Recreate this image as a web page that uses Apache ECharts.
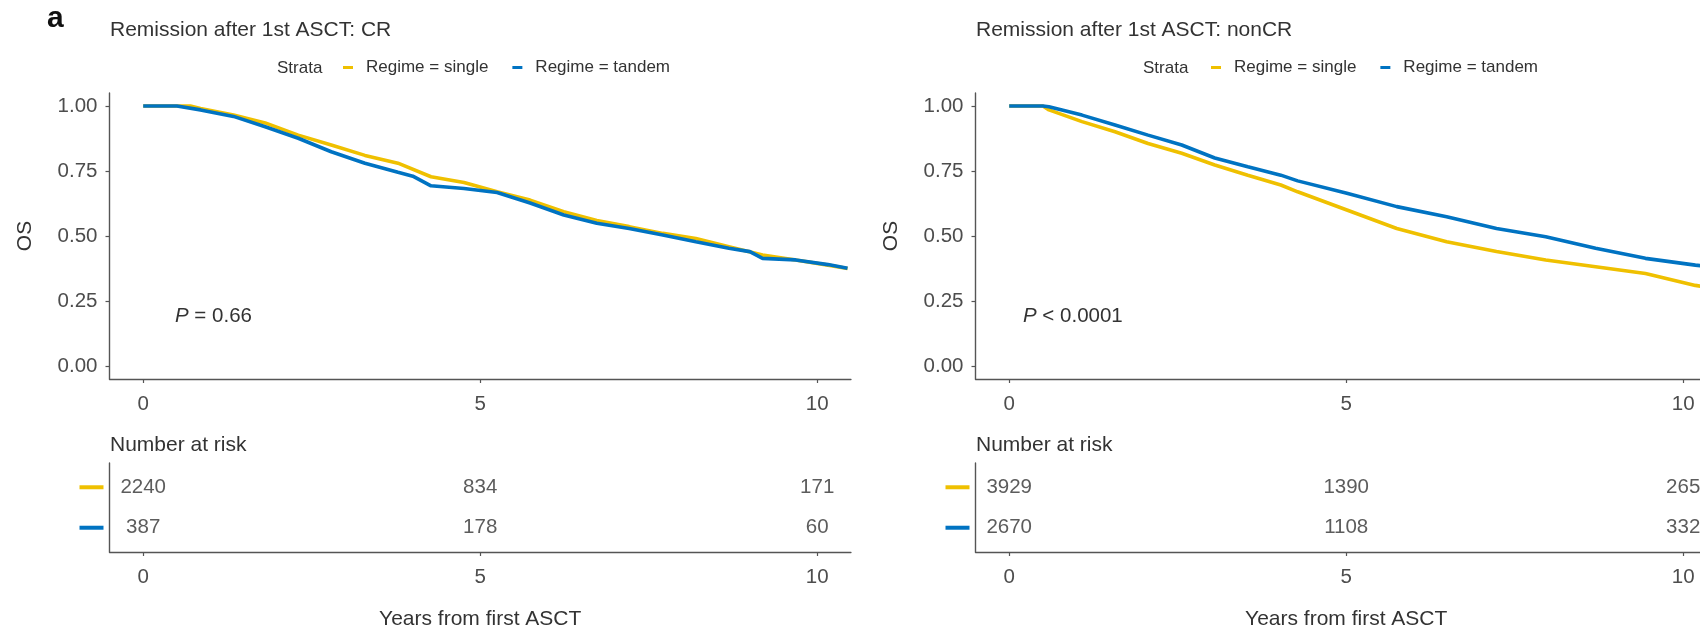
<!DOCTYPE html>
<html><head><meta charset="utf-8">
<script src="https://cdn.jsdelivr.net/npm/echarts@6/dist/echarts.min.js"></script>
<style>html,body{margin:0;padding:0;background:#fff}#c{width:1700px;height:630px}</style>
</head><body><div id="c"></div>
<script>
// ---------- data ----------
const panelTitles = ['Remission after 1st ASCT: CR', 'Remission after 1st ASCT: nonCR'];
const seriesNames = ['Regime = single', 'Regime = tandem'];
const pTexts = [' = 0.66', ' < 0.0001'];
const xTicks = [0, 5, 10];
const yTicks = [0, 0.25, 0.5, 0.75, 1];
const riskTimes = [0, 5, 10];

const crSingleT = [0, 0.7, 0.85, 1.34, 1.81, 2.30, 2.79, 3.29, 3.78, 4.27, 4.76, 5.25, 5.74, 6.24, 6.73, 7.21, 7.71, 8.20, 8.69, 9.19, 9.68, 10.16, 10.45];
const crSingleS = [1, 1, 0.99, 0.965, 0.935, 0.888, 0.85, 0.81, 0.78, 0.728, 0.706, 0.67, 0.638, 0.593, 0.56, 0.536, 0.51, 0.49, 0.459, 0.427, 0.408, 0.388, 0.375];
const crTandemT = [0, 0.5, 0.85, 1.34, 1.81, 2.30, 2.79, 3.29, 3.78, 4.00, 4.27, 4.76, 5.25, 5.74, 6.24, 6.73, 7.21, 7.71, 8.20, 8.69, 9.00, 9.19, 9.68, 10.16, 10.45];
const crTandemS = [1, 1, 0.985, 0.96, 0.92, 0.876, 0.824, 0.78, 0.745, 0.73, 0.693, 0.683, 0.667, 0.627, 0.581, 0.549, 0.529, 0.504, 0.478, 0.453, 0.44, 0.414, 0.408, 0.39, 0.376];

const nonSingleT = [0, 0.5, 0.59, 1.08, 1.57, 2.06, 2.56, 3.05, 3.54, 4.03, 4.28, 5.01, 5.75, 6.49, 7.23, 7.96, 8.70, 9.44, 10.18, 10.45];
const nonSingleS = [1, 1, 0.985, 0.94, 0.901, 0.856, 0.818, 0.773, 0.734, 0.696, 0.67, 0.60, 0.529, 0.478, 0.44, 0.408, 0.382, 0.356, 0.31, 0.30];
const nonTandemT = [0, 0.5, 0.59, 1.08, 1.57, 2.06, 2.56, 3.05, 3.54, 4.03, 4.28, 5.01, 5.75, 6.49, 7.23, 7.96, 8.70, 9.44, 10.18, 10.45];
const nonTandemS = [1, 1, 0.997, 0.965, 0.927, 0.888, 0.85, 0.80, 0.766, 0.734, 0.712, 0.664, 0.613, 0.574, 0.529, 0.497, 0.453, 0.414, 0.388, 0.38];

const crRiskSingle = [2240, 834, 171];
const crRiskTandem = [387, 178, 60];
const nonRiskSingle = [3929, 1390, 265];
const nonRiskTandem = [2670, 1108, 332];

// ---------- style ----------
const FONT = '"Liberation Sans", Arial, Helvetica, sans-serif';
const YEL = '#EFC000', BLU = '#0073C2';
const AXC = '#555555', LBC = '#4d4d4d', TXC = '#333333';
const panelLeft = [109.5, 975.5];
const PW = 741.4;

const zip = (t, s) => t.map((v, i) => [v, s[i]]);
const riskData = (vals, row) => riskTimes.map((t, i) => [t, row, vals[i]]);

const chart = echarts.init(document.getElementById('c'), null, {renderer: 'canvas'});

const grids = [], xAxes = [], yAxes = [], series = [], legends = [], graphics = [];

function xAxisCfg(gi, withName) {
  const a = {
    type: 'value', gridIndex: gi, min: -0.5, max: 10.5,
    axisLine: {show: true, onZero: false, lineStyle: {color: AXC, width: 1.4}},
    axisTick: {show: true, customValues: xTicks, length: 4, lineStyle: {color: AXC, width: 1.2}},
    axisLabel: {customValues: xTicks, margin: 15, fontSize: 20.5, color: LBC, fontFamily: FONT},
    splitLine: {show: false}
  };
  if (withName) {
    a.name = 'Years from first ASCT';
    a.nameLocation = 'middle';
    a.nameGap = 57;
    a.nameTextStyle = {fontSize: 21, color: TXC, fontFamily: FONT};
  }
  return a;
}

const panels = [
  {single: zip(crSingleT, crSingleS), tandem: zip(crTandemT, crTandemS), rs: crRiskSingle, rt: crRiskTandem},
  {single: zip(nonSingleT, nonSingleS), tandem: zip(nonTandemT, nonTandemS), rs: nonRiskSingle, rt: nonRiskTandem}
];

panels.forEach((p, k) => {
  const L = panelLeft[k];
  const gMain = grids.length;
  grids.push({left: L, top: 93, width: PW, height: 286, outerBoundsMode: 'none', containLabel: false});
  const gRisk = grids.length;
  grids.push({left: L, top: 463, width: PW, height: 89, outerBoundsMode: 'none', containLabel: false});

  xAxes.push(xAxisCfg(gMain, false));
  xAxes.push(xAxisCfg(gRisk, true));

  yAxes.push({
    type: 'value', gridIndex: gMain, min: -0.05, max: 1.05,
    axisLine: {show: true, onZero: false, lineStyle: {color: AXC, width: 1.4}},
    axisTick: {show: true, customValues: yTicks, length: 4, lineStyle: {color: AXC, width: 1.2}},
    axisLabel: {customValues: yTicks, margin: 12, fontSize: 20.5, color: LBC, fontFamily: FONT,
      formatter: v => v.toFixed(2)},
    splitLine: {show: false},
    name: 'OS', nameLocation: 'middle', nameGap: 74, nameRotate: 90,
    nameTextStyle: {fontSize: 21, color: TXC, fontFamily: FONT}
  });
  yAxes.push({
    type: 'value', gridIndex: gRisk, min: 0.4, max: 2.6,
    axisLine: {show: true, onZero: false, lineStyle: {color: AXC, width: 1.4}},
    axisTick: {show: false},
    axisLabel: {customValues: [1, 2], margin: 6,
      formatter: v => (v === 2 ? '{s|}' : '{t|}'),
      rich: {s: {width: 24, height: 4, backgroundColor: YEL}, t: {width: 24, height: 4, backgroundColor: BLU}}},
    splitLine: {show: false}
  });

  const xi = xAxes.length - 2, yi = yAxes.length - 2;
  series.push({name: seriesNames[0], type: 'line', xAxisIndex: xi, yAxisIndex: yi, data: p.single,
    showSymbol: false, symbol: 'none', color: YEL, lineStyle: {width: 3.6, color: YEL}, z: 2, silent: true});
  series.push({name: seriesNames[1], type: 'line', xAxisIndex: xi, yAxisIndex: yi, data: p.tandem,
    showSymbol: false, symbol: 'none', color: BLU, lineStyle: {width: 3.6, color: BLU}, z: 3, silent: true});

  const riskLabel = {show: true, position: 'inside', formatter: q => q.value[2], fontSize: 20.5, color: TXC, fontFamily: FONT};
  series.push({name: 'risk single ' + k, type: 'scatter', xAxisIndex: xi + 1, yAxisIndex: yi + 1,
    data: riskData(p.rs, 2), symbolSize: 1, itemStyle: {color: 'rgba(0,0,0,0)'}, label: riskLabel, silent: true});
  series.push({name: 'risk tandem ' + k, type: 'scatter', xAxisIndex: xi + 1, yAxisIndex: yi + 1,
    data: riskData(p.rt, 1), symbolSize: 1, itemStyle: {color: 'rgba(0,0,0,0)'}, label: riskLabel, silent: true});

  legends.push({
    data: seriesNames, left: [343, 1211][k], top: 59, padding: 0, orient: 'horizontal',
    icon: 'rect', itemWidth: 10, itemHeight: 3, itemGap: 24,
    textStyle: {fontSize: 17, color: TXC, fontFamily: FONT, padding: [0, 0, 0, 8]},
    selectedMode: false
  });

  graphics.push({type: 'text', x: L + 0.5, y: 30, style: {text: panelTitles[k], fontSize: 21, fill: TXC, fontFamily: FONT, verticalAlign: 'middle'}});
  graphics.push({type: 'text', x: [277, 1143][k], y: 68, style: {text: 'Strata', fontSize: 17, fill: TXC, fontFamily: FONT, verticalAlign: 'middle'}});
  graphics.push({type: 'text', x: [175, 1023][k], y: 316, style: {
    text: '{i|P}' + pTexts[k], fontSize: 20.5, fill: TXC, fontFamily: FONT, verticalAlign: 'middle',
    rich: {i: {fontStyle: 'italic', fontSize: 20.5, fill: TXC, fontFamily: FONT}}}});
  graphics.push({type: 'text', x: L + 0.5, y: 445, style: {text: 'Number at risk', fontSize: 21, fill: TXC, fontFamily: FONT, verticalAlign: 'middle'}});
});

graphics.push({type: 'text', x: 47, y: 19, style: {text: 'a', fontSize: 30, fontWeight: 'bold', fill: '#111', fontFamily: FONT, verticalAlign: 'middle'}});

chart.setOption({
  backgroundColor: '#ffffff',
  animation: false,
  textStyle: {fontFamily: FONT},
  grid: grids, xAxis: xAxes, yAxis: yAxes, series: series, legend: legends,
  graphic: graphics
});
</script></body></html>
